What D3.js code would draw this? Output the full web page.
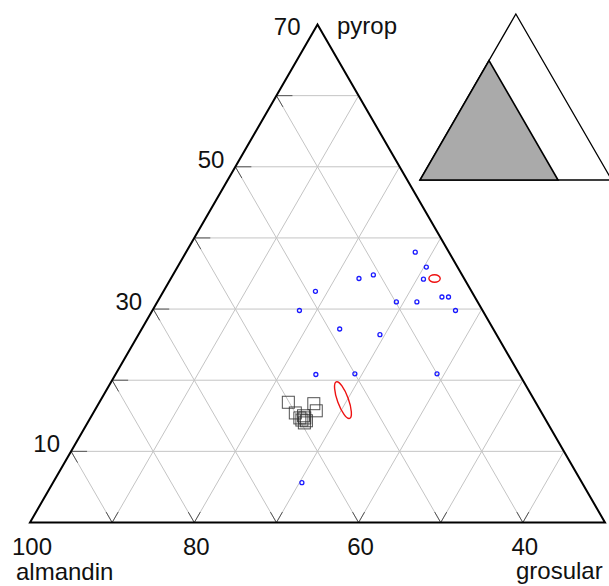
<!DOCTYPE html>
<html>
<head>
<meta charset="utf-8">
<script src="https://cdn.jsdelivr.net/npm/d3@7"></script>
<style>
	html, body { margin: 0; padding: 0; background: #fff; }
	svg { display: block; font-family: "Liberation Sans", Arial, sans-serif; }
</style>
</head>
<body>
<svg id="chart" width="609" height="586"></svg>
<script>
// Ternary plot, almandin - pyrop - grosular (zoomed to almandin >= 30).
// Values are in mol %.

// Axis ticks
const pyropLabels = [10, 30, 50, 70];
const almandinLabels = [100, 80, 60, 40];
const gridSteps = [10, 20, 30, 40, 50, 60];

// Blue circles (pyrop, grosular); almandin = 100 - pyrop - grosular
const circlePyrop    = [38.0, 35.9, 34.3, 34.8, 34.2, 32.5, 31.0, 31.0, 31.7, 31.7, 29.8, 29.8, 27.2, 26.4, 20.8, 20.9, 20.9, 5.6];
const circleGrosular = [27.9, 30.3, 22.9, 24.4, 30.8, 18.5, 29.1, 31.6, 34.3, 35.1, 17.9, 36.9, 24.1, 29.4, 24.4, 29.1, 39.1, 30.3];

// Open squares (pyrop, grosular)
const squarePyrop    = [16.9, 15.4, 16.7, 15.7, 14.7, 15.0, 14.7, 14.3, 14.0, 14.4];
const squareGrosular = [23.0, 24.6, 26.2, 27.0, 25.5, 25.8, 26.1, 26.5, 26.4, 25.9];

// Red ellipses: centre (pyrop, grosular), half axes in % units, tilt in degrees
const ellipsePyrop    = [34.3, 17.2];
const ellipseGrosular = [32.1, 29.5];
const ellipseHalfA    = [0.69, 0.67];
const ellipseHalfB    = [0.45, 2.37];
const ellipseTilt     = [0, -20];

// part of the full triangle that the main plot shows (inset)
const insetShown = 72;

const COLORS = {
	edge:   "#000000",
	grid:   "#c4c4c4",
	tick:   "#555555",
	circle: "#1a1aff",
	square: "#333333",
	ellipse:"#ee1111",
	inset:  "#aaaaaa",
	text:   "#111111",
};

const svg = d3.select("#chart");

// main triangle: pyrop + grosular in [0, 70]
const xScale = d3.scaleLinear().domain([0, 70]).range([30, 605]);
const yScale = d3.scaleLinear().domain([0, 70]).range([522.5, 24.5]);

function project(p, g, xs = xScale, ys = yScale) {
	return [xs(g + p / 2), ys(p)];
}

// cut a segment down to its first `len` px, starting at a
function headOf(a, b, len) {
	const dx = b[0] - a[0], dy = b[1] - a[1];
	const d = Math.hypot(dx, dy);
	return [a, [a[0] + dx / d * len, a[1] + dy / d * len]];
}

const line = d3.line();

// grid lines: [start, end] pairs, start on the left or bottom edge
const pyropLines    = gridSteps.map(p => [project(p, 0), project(p, 70 - p)]);
const almandinLines = gridSteps.map(s => [project(0, s), project(s, 0)]);
const grosularLines = gridSteps.map(g => [project(0, g), project(70 - g, g)]);

const gGrid = svg.append("g")
	.attr("fill", "none")
	.attr("stroke", COLORS.grid)
	.attr("stroke-width", 1);
gGrid.selectAll("path")
	.data([...pyropLines, ...almandinLines, ...grosularLines])
	.join("path")
	.attr("d", d => line(d));

// darker ticks at the labelled edges
const ticks = [
	...pyropLines.map(d => headOf(d[0], d[1], 16)),
	...almandinLines.map(d => headOf(d[0], d[1], 12)),
	...almandinLines.map(d => headOf(d[1], d[0], 13)),
	...grosularLines.map(d => headOf(d[0], d[1], 12)),
];
svg.append("g")
	.attr("fill", "none")
	.attr("stroke", COLORS.tick)
	.attr("stroke-width", 1)
	.selectAll("path")
	.data(ticks)
	.join("path")
	.attr("d", d => line(d));

// outline
svg.append("path")
	.attr("d", line([project(0, 0), project(0, 70), project(70, 0)]) + "Z")
	.attr("fill", "none")
	.attr("stroke", COLORS.edge)
	.attr("stroke-width", 2)
	.attr("stroke-linejoin", "miter");

// squares
const squares = squarePyrop.map((p, i) => project(p, squareGrosular[i]));
svg.append("g")
	.attr("fill", "none")
	.attr("stroke", COLORS.square)
	.attr("stroke-opacity", 0.85)
	.attr("stroke-width", 1)
	.selectAll("rect")
	.data(squares)
	.join("rect")
	.attr("x", d => d[0] - 6)
	.attr("y", d => d[1] - 6)
	.attr("width", 12)
	.attr("height", 12);

// circles
const circles = circlePyrop.map((p, i) => project(p, circleGrosular[i]));
svg.append("g")
	.attr("fill", "none")
	.attr("stroke", COLORS.circle)
	.attr("stroke-width", 1.3)
	.selectAll("circle")
	.data(circles)
	.join("circle")
	.attr("cx", d => d[0])
	.attr("cy", d => d[1])
	.attr("r", 2);

// ellipses (half axes converted with the horizontal unit length)
const unit = xScale(1) - xScale(0);
svg.append("g")
	.attr("fill", "none")
	.attr("stroke", COLORS.ellipse)
	.attr("stroke-width", 1.4)
	.selectAll("ellipse")
	.data(ellipsePyrop.map((p, i) => ({
		c: project(p, ellipseGrosular[i]),
		rx: ellipseHalfA[i] * unit,
		ry: ellipseHalfB[i] * unit,
		tilt: ellipseTilt[i],
	})))
	.join("ellipse")
	.attr("transform", d => `translate(${d.c[0]},${d.c[1]}) rotate(${d.tilt})`)
	.attr("rx", d => d.rx)
	.attr("ry", d => d.ry);

// inset: full triangle with the shown part in grey
const ixScale = d3.scaleLinear().domain([0, 100]).range([420, 611.7]);
const iyScale = d3.scaleLinear().domain([0, 100]).range([180, 14]);
const ip = (p, g) => project(p, g, ixScale, iyScale);
const gInset = svg.append("g");
gInset.append("path")
	.attr("d", line([ip(0, 0), ip(0, 100), ip(100, 0)]) + "Z")
	.attr("fill", "#fff")
	.attr("stroke", COLORS.edge)
	.attr("stroke-width", 1.3);
gInset.append("path")
	.attr("d", line([ip(0, 0), ip(0, insetShown), ip(insetShown, 0)]) + "Z")
	.attr("fill", COLORS.inset)
	.attr("stroke", COLORS.edge)
	.attr("stroke-width", 1.6);

// labels
const gText = svg.append("g")
	.attr("fill", COLORS.text)
	.attr("font-size", 24);
gText.selectAll(".pyrop")
	.data(pyropLabels)
	.join("text")
	.attr("class", "pyrop")
	.attr("text-anchor", "end")
	.attr("x", p => project(p, 0)[0] - 11 - (p === 70 ? 6 : 0))
	.attr("y", p => Math.max(project(p, 0)[1] + 1, 35))
	.text(p => p);
gText.selectAll(".alm")
	.data(almandinLabels)
	.join("text")
	.attr("class", "alm")
	.attr("text-anchor", "middle")
	.attr("x", a => project(0, 100 - a)[0] + 2)
	.attr("y", 555)
	.text(a => a);
gText.append("text").attr("x", 337).attr("y", 34).text("pyrop");
gText.append("text").attr("x", 16).attr("y", 580).text("almandin");
gText.append("text").attr("x", 516).attr("y", 579).text("grosular");
</script>
</body>
</html>
